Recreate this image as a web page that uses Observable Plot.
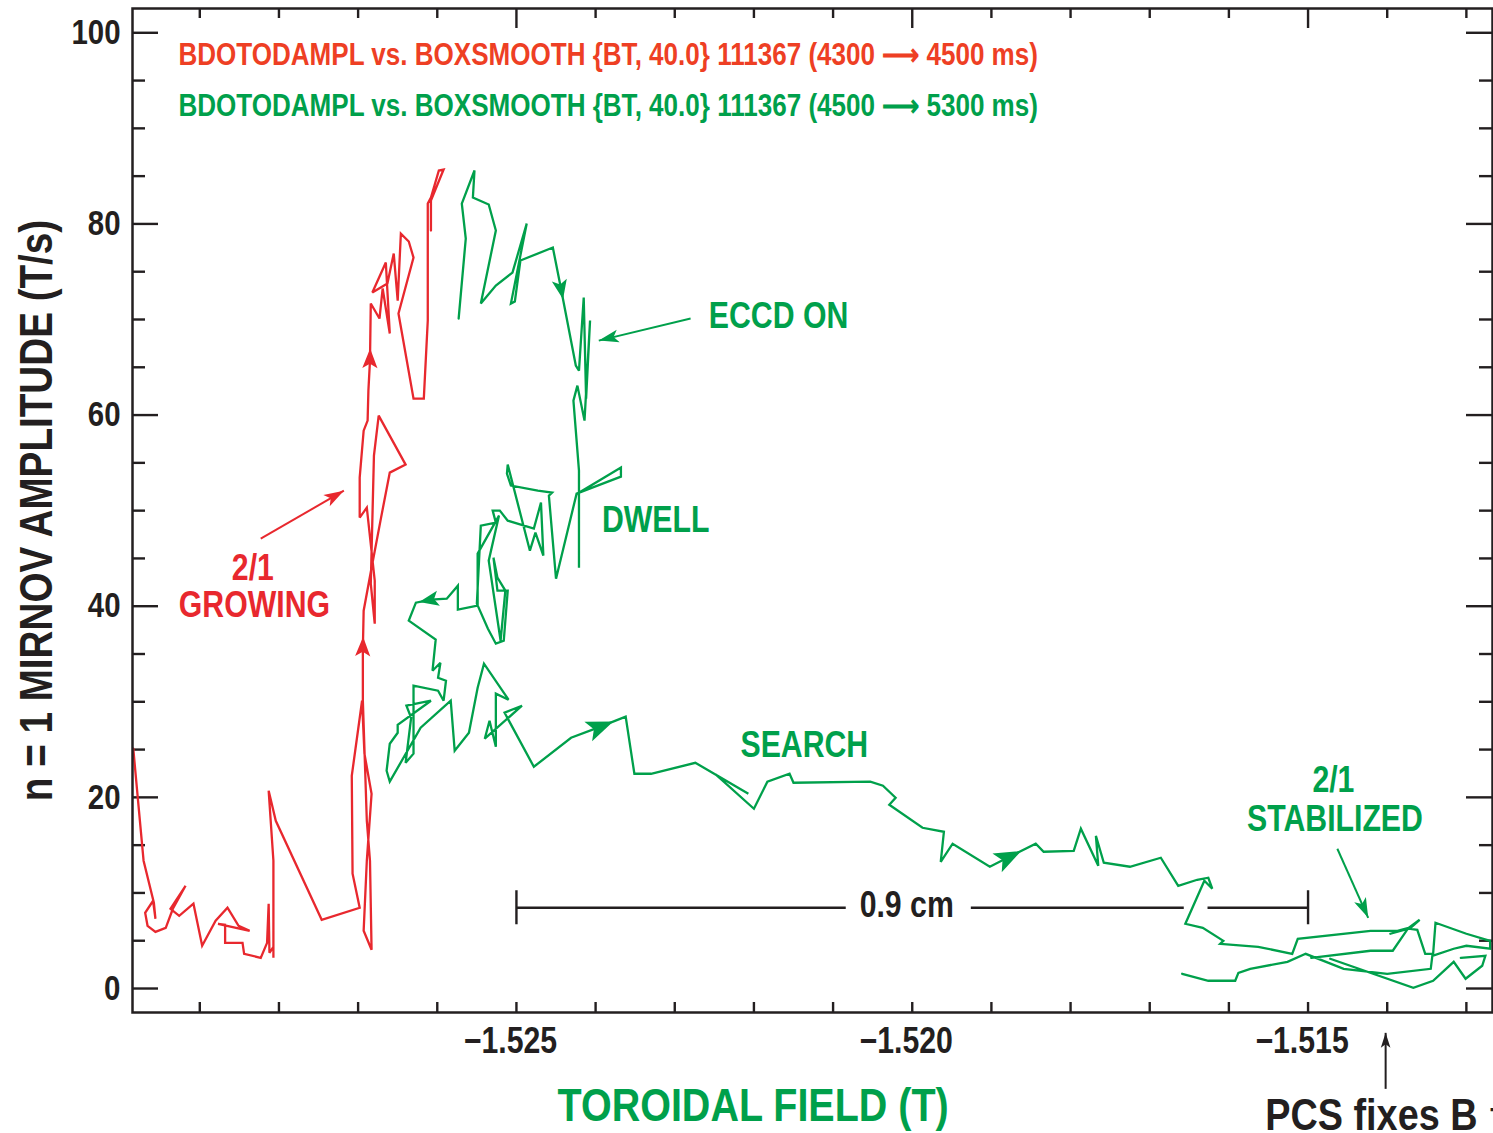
<!DOCTYPE html>
<html>
<head>
<meta charset="utf-8">
<script src="https://cdn.jsdelivr.net/npm/d3@7"></script>
<script src="https://cdn.jsdelivr.net/npm/@observablehq/plot@0.6"></script>
<style>
  html, body { margin: 0; padding: 0; background: #fff; }
  #chart { width: 1493px; height: 1133px; overflow: hidden; }
</style>
</head>
<body>
<div id="chart"></div>
<script>
// Shot 111367: n=1 Mirnov amplitude (T/s) against toroidal field (T)

// 4300 -> 4500 ms (2/1 mode growing)
const redB = [
  -1.52984, -1.52978, -1.52971, -1.52958, -1.52956, -1.52959, -1.52969, -1.52966, -1.52956, -1.52943,
  -1.52934, -1.52918, -1.52937, -1.52926, -1.52908, -1.52897, -1.52880, -1.52865, -1.52851, -1.52837,
  -1.52877, -1.52868, -1.52868, -1.52846, -1.52844, -1.52823, -1.52815, -1.52813, -1.52812, -1.52807,
  -1.52807, -1.52807, -1.52813, -1.52804, -1.52746, -1.52698, -1.52707, -1.52708, -1.52695, -1.52692,
  -1.52683, -1.52689, -1.52693, -1.52683, -1.52685, -1.52689, -1.52694, -1.52694, -1.52693, -1.52683,
  -1.52671, -1.52660, -1.52640, -1.52674, -1.52680, -1.52684, -1.52679, -1.52679, -1.52689, -1.52698,
  -1.52698, -1.52693, -1.52688, -1.52687, -1.52685, -1.52684, -1.52673, -1.52669, -1.52660, -1.52665,
  -1.52682, -1.52663, -1.52655, -1.52650, -1.52646, -1.52636, -1.52630, -1.52649, -1.52630, -1.52617,
  -1.52612, -1.52612, -1.52608, -1.52598, -1.52592, -1.52608, -1.52608
];
const redA = [
  25.09, 19.65, 13.37, 8.97, 7.30, 9.18, 7.92, 6.56, 5.93, 6.35,
  8.34, 10.75, 8.34, 7.61, 8.87, 4.47, 7.09, 8.45, 6.56, 6.04,
  6.77, 6.67, 4.78, 4.78, 3.63, 3.21, 4.78, 8.87, 3.74, 4.36,
  3.21, 13.37, 20.69, 17.55, 7.19, 8.45, 12.01, 22.26, 30.11, 24.57,
  20.38, 13.37, 6.04, 4.05, 13.37, 17.55, 30.11, 35.56, 39.53, 44.03,
  49.27, 53.98, 54.82, 59.94, 55.76, 42.36, 38.17, 42.67, 50.31, 49.27,
  53.45, 58.37, 59.42, 62.56, 65.70, 71.67, 70.10, 73.24, 68.53, 75.96,
  72.82, 73.76, 76.90, 71.98, 78.99, 78.16, 76.48, 70.62, 61.72, 61.72,
  69.89, 82.13, 82.76, 85.59, 85.69, 82.45, 79.31
];
// direction arrows sit on these samples, pointing to the next one
const redArrowAt = [47, 64];

// 4500 -> 5300 ms (ECCD on, dwell, search, stabilized); null breaks the line
const greenB = [
  -1.52573, -1.52564, -1.52569, -1.52553, -1.52555, -1.52535, -1.52526, -1.52545, -1.52526, -1.52505,
  -1.52487, -1.52507, -1.52502, -1.52495, -1.52454, -1.52444, -1.52425, -1.52421, -1.52415, -1.52412,
  -1.52407, -1.52414, -1.52423, -1.52428, -1.52421, -1.52421, -1.52421, -1.52368, -1.52368, -1.52424,
  -1.52450, -1.52459, -1.52455, -1.52473, -1.52507, -1.52512, -1.52511, -1.52483, -1.52476, -1.52466,
  -1.52469, -1.52478, -1.52511, -1.52521, -1.52530, -1.52526, -1.52545, -1.52550, -1.52536, -1.52526,
  -1.52516, -1.52511, -1.52524, -1.52529, -1.52524, -1.52514, -1.52520, -1.52535, -1.52522, -1.52549,
  -1.52549, -1.52574, -1.52574, -1.52588, -1.52608, -1.52627, -1.52636, -1.52602, -1.52606, -1.52596,
  -1.52599, -1.52589, -1.52592, -1.52599, -1.52630, -1.52630, -1.52640, -1.52633, -1.52639, -1.52608,
  -1.52650, -1.52650, -1.52660, -1.52664, -1.52660, -1.52621, -1.52583, -1.52578, -1.52560, -1.52549,
  -1.52541, -1.52510, -1.52526, -1.52526, -1.52534, -1.52540, -1.52493, -1.52515, -1.52478, -1.52431,
  -1.52397, -1.52362, -1.52351, -1.52330, -1.52274, -1.52207, -1.52248, -1.52200, -1.52183, -1.52155,
  -1.52150, -1.52053, -1.52037, -1.52021, -1.52029, -1.51987, -1.51960, -1.51964, -1.51949, -1.51902,
  -1.51881, -1.51844, -1.51834, -1.51796, -1.51787, -1.51765, -1.51768, -1.51758, -1.51725, -1.51686,
  -1.51664, -1.51640, -1.51626, -1.51621, -1.51631, -1.51655, -1.51633, -1.51607, -1.51611, -1.51563,
  -1.51520, -1.51513, -1.51421, -1.51387, -1.51373, -1.51359, -1.51372, -1.51362, -1.51352, -1.51342,
  -1.51339, -1.51300, -1.51270, -1.51270, -1.51300, -1.51316, -1.51343, -1.51345, -1.51400, -1.51455,
  -1.51503, -1.51526, -1.51573, -1.51588, -1.51592, -1.51626, -1.51659, null, -1.51496, -1.51421,
  -1.51412, -1.51393, -1.51374, -1.51396, null, -1.51472, -1.51367, -1.51342, -1.51316, -1.51301,
  -1.51280, -1.51276, -1.51307
];
const greenA = [
  70.10, 78.47, 82.13, 85.59, 82.76, 82.03, 79.31, 71.67, 73.55, 74.91,
  80.04, 71.67, 71.88, 76.17, 77.53, 73.34, 65.18, 64.65, 72.30, 61.72,
  69.89, 59.42, 63.08, 61.51, 54.19, 44.03, 51.88, 54.50, 53.56, 51.78,
  42.88, 51.57, 51.88, 52.09, 52.62, 53.87, 54.82, 45.81, 47.70, 45.29,
  50.84, 48.12, 48.95, 50.00, 50.00, 48.74, 48.43, 40.27, 37.65, 36.08,
  36.39, 41.63, 41.63, 45.08, 42.99, 41.63, 36.39, 44.77, 49.48, 45.50,
  40.06, 39.64, 42.15, 40.79, 40.68, 40.37, 38.49, 36.50, 33.25, 34.09,
  32.52, 32.21, 30.11, 31.16, 31.68, 24.57, 23.62, 28.33, 29.59, 30.11,
  27.60, 26.76, 25.61, 22.79, 21.64, 27.29, 30.11, 24.88, 26.76, 31.47,
  33.99, 30.22, 30.85, 25.30, 28.02, 26.14, 29.59, 28.86, 23.20, 26.24,
  27.29, 28.44, 22.47, 22.47, 23.62, 20.38, 22.37, 18.81, 21.64, 22.47,
  21.53, 21.64, 21.22, 19.96, 19.23, 16.82, 16.40, 13.26, 15.15, 12.74,
  13.63, 15.15, 14.31, 14.41, 16.72, 12.84, 15.98, 13.16, 12.74, 13.68,
  10.75, 11.38, 11.59, 10.44, 11.27, 6.77, 6.35, 4.99, 4.68, 4.36,
  3.63, 5.20, 6.04, 6.04, 6.35, 7.19, 6.25, 6.14, 3.63, 3.63,
  6.88, 5.73, 4.99, 4.16, 4.47, 4.16, 3.42, 2.06, 1.54, 2.06,
  3.63, 2.79, 2.06, 1.64, 0.81, 0.81, 1.54, null, 3.21, 3.95,
  3.95, 3.95, 6.25, 5.73, null, 3.11, 0.07, 0.81, 2.79, 1.02,
  2.38, 3.42, 3.21
];
const greenArrowAt = [15, 64];
const greenBigArrowAt = [100, 120];

// axis ticks
const xTicksAll = [-1.529, -1.528, -1.527, -1.526, -1.525, -1.524, -1.523, -1.522, -1.521,
                   -1.520, -1.519, -1.518, -1.517, -1.516, -1.515, -1.514, -1.513];
const xTicksLabeled = [-1.525, -1.520, -1.515];
const yTicksAll = [0, 5, 10, 15, 20, 25, 30, 35, 40, 45, 50, 55, 60, 65, 70, 75, 80, 85, 90, 95, 100];
const yTicksLabeled = [0, 20, 40, 60, 80, 100];

const legendLines = [
  "BDOTODAMPL vs. BOXSMOOTH {BT, 40.0} 111367 (4300 \u27F6 4500 ms)",
  "BDOTODAMPL vs. BOXSMOOTH {BT, 40.0} 111367 (4500 \u27F6 5300 ms)"
];

// ---- layout and styling ----
const FONT = '"Liberation Sans", Arial, Helvetica, sans-serif';
const CONDENSE = 0.84;   // all lettering is set condensed
const RED = "#e8282e", RED_TEXT = "#ee3f24", GREEN = "#00a04b", INK = "#231f20";
const W = 1493, H = 1133;
const M = {top: 8, right: 1, bottom: 121, left: 132};
const FW = W - M.left - M.right, FH = H - M.top - M.bottom;
const xDomain = [-1.52985, -1.51267];
const yDomain = [-2.51, 102.54];
const X = d3.scaleLinear(xDomain, [M.left, W - M.right]);
const Y = d3.scaleLinear(yDomain, [H - M.bottom, M.top]);
// clockwise screen heading (degrees, 0 = up) from one data point to another
const heading = (x1, y1, x2, y2) => Math.atan2(X(x2) - X(x1), Y(y1) - Y(y2)) * 180 / Math.PI;

// notched arrowhead centred on its anchor
const barb = {draw(ctx, size) {
  const r = Math.sqrt(size / Math.PI);
  ctx.moveTo(0, -1.5 * r); ctx.lineTo(0.95 * r, 0.95 * r); ctx.lineTo(0, 0.4 * r);
  ctx.lineTo(-0.95 * r, 0.95 * r); ctx.closePath();
}};
// notched arrowhead with its tip on the anchor
const tipBarb = {draw(ctx, size) {
  const r = Math.sqrt(size / Math.PI);
  ctx.moveTo(0, 0); ctx.lineTo(0.8 * r, 2.5 * r); ctx.lineTo(0, 1.9 * r);
  ctx.lineTo(-0.8 * r, 2.5 * r); ctx.closePath();
}};

const fmtX = d => "\u2212" + Math.abs(d).toFixed(3);
const idx = a => a.map((_, i) => i);

function traceLine(B, A, color) {
  return Plot.line(idx(A), {x: i => B[i], y: i => A[i], stroke: color, strokeWidth: 2.3,
    strokeLinejoin: "miter", strokeMiterlimit: 3, clip: true});
}
function traceArrows(B, A, at, color, r) {
  return Plot.dot(at, {x: i => B[i], y: i => A[i], symbol: barb, r, fill: color, stroke: "none",
    rotate: i => heading(B[i], A[i], B[i + 1], A[i + 1])});
}

function pointer(x1, y1, x2, y2, color, r) {
  return [
    Plot.link([0], {x1, y1, x2, y2, stroke: color, strokeWidth: 2}),
    Plot.dot([0], {x: x2, y: y2, symbol: tipBarb, r, fill: color, stroke: "none",
      rotate: heading(x1, y1, x2, y2)})
  ];
}

function label(text, x, y, color, size, anchor = "start") {
  return Plot.text([text], {x, y, text: d => d, fill: color, fontSize: size, fontWeight: "bold",
    fontFamily: FONT, textAnchor: anchor, lineAnchor: "middle"});
}

const plot = Plot.plot({
  width: W, height: H,
  marginTop: M.top, marginRight: M.right, marginBottom: M.bottom, marginLeft: M.left,
  style: {fontFamily: FONT, fontWeight: "bold", color: INK, background: "#fff"},
  x: {domain: xDomain},
  y: {domain: yDomain},
  marks: [
    // inward ticks on all four sides
    Plot.ruleX(xTicksAll, {stroke: INK, strokeWidth: 2.4, insetTop: FH - 10}),
    Plot.ruleX(xTicksAll.filter(d => !xTicksLabeled.includes(d)), {stroke: INK, strokeWidth: 2.4, insetBottom: FH - 10}),
    Plot.ruleX(xTicksLabeled, {stroke: INK, strokeWidth: 2.4, insetBottom: FH - 20}),
    Plot.ruleY(yTicksAll.filter(d => !yTicksLabeled.includes(d)), {stroke: INK, strokeWidth: 2.4, insetRight: FW - 13}),
    Plot.ruleY(yTicksLabeled, {stroke: INK, strokeWidth: 2.4, insetRight: FW - 26}),
    Plot.ruleY(yTicksAll.filter(d => !yTicksLabeled.includes(d)), {stroke: INK, strokeWidth: 2.4, insetLeft: FW - 13}),
    Plot.ruleY(yTicksLabeled, {stroke: INK, strokeWidth: 2.4, insetLeft: FW - 26}),
    Plot.axisX({ticks: xTicksLabeled, tickFormat: fmtX, tickSize: 0, tickPadding: 15, fontSize: 36,
      fontWeight: "bold", fill: INK, label: null, dx: -6}),
    Plot.axisY({ticks: yTicksLabeled, tickSize: 0, tickPadding: 12, fontSize: 35,
      fontWeight: "bold", fill: INK, label: null}),

    // scale bar: 0.9 cm
    Plot.link([[-1.52500, -1.52084], [-1.51926, -1.51657], [-1.51627, -1.51500]],
      {x1: d => d[0], x2: d => d[1], y1: 8.45, y2: 8.45, stroke: INK, strokeWidth: 2.4}),
    Plot.ruleX([-1.525, -1.515], {y1: 6.67, y2: 10.23, stroke: INK, strokeWidth: 2.4}),
    label("0.9 cm", -1.52007, 8.66, INK, 36, "middle"),

    // traces
    traceLine(redB, redA, RED),
    traceArrows(redB, redA, redArrowAt, RED, 8),
    traceLine(greenB, greenA, GREEN),
    traceArrows(greenB, greenA, greenArrowAt, GREEN, 8),
    traceArrows(greenB, greenA, greenBigArrowAt, GREEN, 11),

    // legend
    label(legendLines[0], -1.52927, 97.62, RED_TEXT, 31),
    label(legendLines[1], -1.52927, 92.34, GREEN, 31),

    // annotations
    label("ECCD ON", -1.52257, 70.31, GREEN, 36),
    ...pointer(-1.52280, 70.10, -1.52396, 67.79, GREEN, 8),
    label("DWELL", -1.52392, 48.95, GREEN, 36),
    label("SEARCH", -1.52217, 25.40, GREEN, 36),
    label("2/1", -1.52833, 43.93, RED, 36, "middle"),
    label("GROWING", -1.52831, 40.06, RED, 36, "middle"),
    ...pointer(-1.52823, 47.07, -1.52718, 52.09, RED, 8),
    label("2/1", -1.51468, 21.74, GREEN, 36, "middle"),
    label("STABILIZED", -1.51466, 17.66, GREEN, 36, "middle"),
    ...pointer(-1.51463, 14.62, -1.51424, 7.40, GREEN, 8),

    // axis titles and the PCS note below the frame
    label("TOROIDAL FIELD (T)", -1.52201, -12.33, GREEN, 47, "middle"),
    Plot.text(["n = 1 MIRNOV AMPLITUDE (T/s)"], {text: d => d, frameAnchor: "left", dx: -95, rotate: -90,
      textAnchor: "middle", fontSize: 46, fontWeight: "bold", fontFamily: FONT, fill: INK}),
    ...pointer(-1.51402, -10.50, -1.51402, -4.64, INK, 6),
    label("PCS fixes B", -1.51554, -13.32, INK, 45),
    label("T", -1.51270, -13.64, INK, 30),

    Plot.frame({stroke: INK, strokeWidth: 2.5})
  ]
});

document.getElementById("chart").appendChild(plot);

// set every label condensed by squeezing it to a fixed share of its natural width
for (const t of plot.querySelectorAll("text")) {
  const len = t.getComputedTextLength();
  if (len > 0) {
    t.setAttribute("textLength", (len * CONDENSE).toFixed(1));
    t.setAttribute("lengthAdjust", "spacingAndGlyphs");
  }
}
</script>
</body>
</html>
